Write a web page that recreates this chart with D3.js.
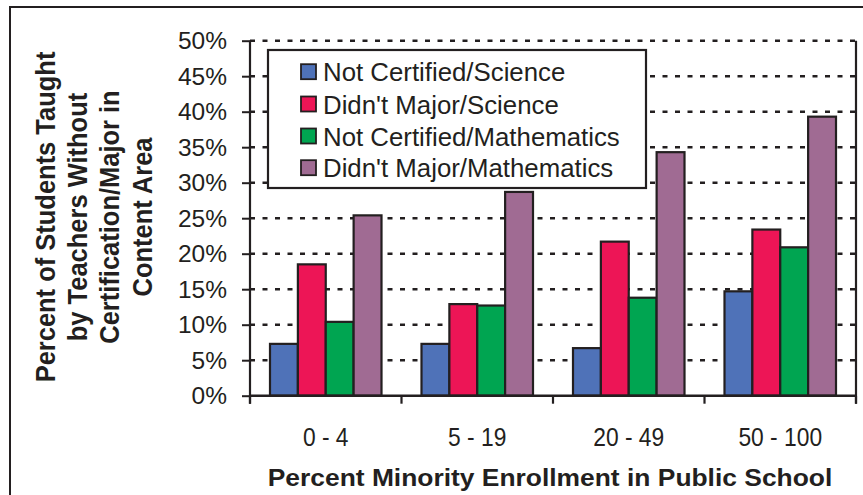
<!DOCTYPE html>
<html>
<head>
<meta charset="utf-8">
<script src="https://cdn.jsdelivr.net/npm/d3@7"></script>
<style>
  html, body { margin: 0; padding: 0; background: #fff; }
  svg { display: block; }
  text { font-family: "Liberation Sans", Arial, Helvetica, sans-serif; fill: #231f20; }
</style>
</head>
<body>
<svg id="chart" width="863" height="495"></svg>
<script>
// ---- data ----
const categories = ["0 - 4", "5 - 19", "20 - 49", "50 - 100"];
const seriesNames = ["Not Certified/Science", "Didn't Major/Science", "Not Certified/Mathematics", "Didn't Major/Mathematics"];
const notCertifiedScience = [7.3, 7.3, 6.7, 14.7];
const didntMajorScience = [18.5, 12.9, 21.7, 23.4];
const notCertifiedMath = [10.4, 12.7, 13.8, 20.9];
const didntMajorMath = [25.4, 28.7, 34.3, 39.3];
const seriesColors = ["#4f72b8", "#ed1556", "#00a551", "#a06b93"];
const yTicks = [0, 5, 10, 15, 20, 25, 30, 35, 40, 45, 50];
const yTitleLines = ["Percent of Students Taught", "by Teachers Without", "Certification/Major in", "Content Area"];
const xTitle = "Percent Minority Enrollment in Public School";

const seriesValues = [notCertifiedScience, didntMajorScience, notCertifiedMath, didntMajorMath];

const ink = "#231f20";
const svg = d3.select("#chart");

// outer frame
svg.append("rect")
  .attr("x", 10).attr("y", 7).attr("width", 870).attr("height", 500)
  .attr("fill", "none").attr("stroke", ink).attr("stroke-width", 2);

const pLeft = 250, pRight = 856, pTop = 40.7, pBottom = 395.7;

const y = d3.scaleLinear().domain([0, 50]).range([pBottom, pTop]);
const x0 = d3.scaleBand().domain(categories).range([pLeft, pRight])
  .paddingInner(0.264).paddingOuter(0.132);
const x1 = d3.scaleBand().domain(seriesNames).range([0, x0.bandwidth()]).padding(0);

// grid lines
svg.append("g").selectAll("line")
  .data(yTicks.filter(d => d > 0))
  .join("line")
  .attr("x1", pLeft).attr("x2", pRight)
  .attr("y1", d => y(d)).attr("y2", d => y(d))
  .attr("stroke", ink).attr("stroke-width", 2.6)
  .attr("stroke-dasharray", "5,7.5");

// bars
const groups = svg.append("g").selectAll("g")
  .data(categories)
  .join("g")
  .attr("transform", d => `translate(${x0(d)},0)`);

groups.selectAll("rect")
  .data((c, i) => seriesNames.map((s, j) => ({ s, j, v: seriesValues[j][i] })))
  .join("rect")
  .attr("x", d => x1(d.s))
  .attr("y", d => y(d.v))
  .attr("width", x1.bandwidth())
  .attr("height", d => y(0) - y(d.v))
  .attr("fill", d => seriesColors[d.j])
  .attr("stroke", ink).attr("stroke-width", 2.2);

// y axis
const yAxis = d3.axisLeft(y).tickValues(yTicks).tickSize(8).tickPadding(15)
  .tickFormat(d => d + "%");
const yg = svg.append("g").attr("transform", `translate(${pLeft},0)`).call(yAxis);
yg.select(".domain").remove();
yg.selectAll(".tick line").attr("stroke", ink).attr("stroke-width", 2);
yg.selectAll(".tick text").attr("font-size", 24.5).attr("fill", ink)
  .attr("font-family", "'Liberation Sans', Arial, sans-serif");
svg.append("line").attr("x1", pLeft).attr("x2", pLeft).attr("y1", pTop).attr("y2", pBottom + 8)
  .attr("stroke", ink).attr("stroke-width", 2.2);
svg.append("line").attr("x1", pRight).attr("x2", pRight).attr("y1", pTop).attr("y2", pBottom + 8)
  .attr("stroke", ink).attr("stroke-width", 2.2);

// x axis
svg.append("line").attr("x1", pLeft).attr("x2", pRight).attr("y1", pBottom).attr("y2", pBottom)
  .attr("stroke", ink).attr("stroke-width", 2.6);
const step = x0.step();
const boundaries = d3.range(categories.length + 1).map(i => pLeft + i * step);
svg.append("g").selectAll("line").data(boundaries).join("line")
  .attr("x1", d => d).attr("x2", d => d).attr("y1", pBottom).attr("y2", pBottom + 8)
  .attr("stroke", ink).attr("stroke-width", 2.2);
svg.append("g").selectAll("text").data(categories).join("text")
  .attr("transform", d => `translate(${x0(d) + x0.bandwidth() / 2},446) scale(0.95,1.05)`)
  .attr("text-anchor", "middle")
  .attr("font-size", 24)
  .text(d => d);

// x title
svg.append("text")
  .attr("transform", "translate(550,486) scale(1.1,1)")
  .attr("text-anchor", "middle")
  .attr("font-size", 24).attr("font-weight", "bold")
  .text(xTitle);

// y title
const yTitle = svg.append("text")
  .attr("transform", "translate(0,217) rotate(-90) scale(1,1.08)")
  .attr("text-anchor", "middle")
  .attr("font-size", 25.5).attr("font-weight", "bold");
yTitle.selectAll("tspan").data(yTitleLines).join("tspan")
  .attr("x", 0)
  .attr("y", (d, i) => [50.5, 81, 110.5, 141][i])
  .text(d => d);

// legend
const lg = svg.append("g");
lg.append("rect").attr("x", 268).attr("y", 50).attr("width", 378).attr("height", 138)
  .attr("fill", "#fff").attr("stroke", ink).attr("stroke-width", 2.2);
const rowsY = [71.7, 104, 136, 167.7];
const items = lg.selectAll("g.item").data(seriesNames).join("g").attr("class", "item")
  .attr("transform", (d, i) => `translate(0,${rowsY[i]})`);
items.append("rect").attr("x", 301).attr("y", -7.5).attr("width", 15).attr("height", 15)
  .attr("fill", (d, i) => seriesColors[i]).attr("stroke", ink).attr("stroke-width", 1.8);
items.append("text").attr("x", 323).attr("y", 9.5).attr("font-size", 25.8).text(d => d);
</script>
</body>
</html>
